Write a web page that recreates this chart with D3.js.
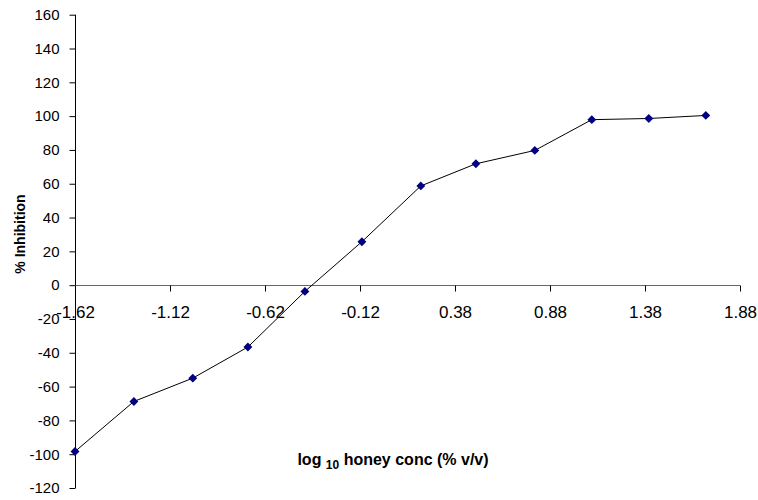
<!DOCTYPE html>
<html>
<head>
<meta charset="utf-8">
<script src="https://cdn.jsdelivr.net/npm/d3@7"></script>
<style>
  body { margin: 0; background: #fff; }
  text { font-family: "Liberation Sans", Arial, sans-serif; }
</style>
</head>
<body>
<div id="chart"></div>
<script>
// Chart size
var svgWidth = 758;
var svgHeight = 500;

// Data
var logConc = [-1.62, -1.31, -1.00, -0.71, -0.41, -0.11, 0.20, 0.49, 0.80, 1.10, 1.40, 1.70];
var inhibition = [-98.4, -68.8, -55.0, -36.6, -3.7, 25.7, 58.7, 71.8, 79.7, 97.9, 98.6, 100.4];
var xTicks = [-1.62, -1.12, -0.62, -0.12, 0.38, 0.88, 1.38, 1.88];
var yTicks = [160, 140, 120, 100, 80, 60, 40, 20, 0, -20, -40, -60, -80, -100, -120];

var data = logConc.map(function(d, i) { return { x: d, y: inhibition[i] }; });

var svg = d3.select("#chart")
  .append("svg")
  .attr("width", svgWidth)
  .attr("height", svgHeight);

// Scales
var xScale = d3.scaleLinear().domain([-1.62, 1.88]).range([75, 740]);
var yScale = d3.scaleLinear().domain([-120, 160]).range([488, 14.7]);

// plain hyphen instead of d3's unicode minus
var hyphen = function(s) { return s.replace("\u2212", "-"); };

// Y axis (left side of plot)
var leftAxis = d3.axisLeft(yScale)
  .tickValues(yTicks)
  .tickSize(6)
  .tickPadding(10)
  .tickFormat(function(d) { return hyphen(d3.format("d")(d)); });

var yAxis = svg.append("g")
  .attr("transform", "translate(75.5,0)")
  .call(leftAxis);
yAxis.select(".domain").attr("stroke", "#000").attr("d", "M0," + yScale(160) + "V" + yScale(-120));
yAxis.selectAll(".tick line").attr("stroke", "#000");
yAxis.selectAll(".tick text")
  .style("font-size", "15px")
  .attr("fill", "#000");

// X axis crossing at zero
var bottomAxis = d3.axisBottom(xScale)
  .tickValues(xTicks)
  .tickSize(6)
  .tickPadding(14)
  .tickFormat(function(d) { return hyphen(d3.format(".2f")(d)); });

var xAxis = svg.append("g")
  .attr("transform", "translate(0," + (Math.round(yScale(0)) + 0.5) + ")")
  .call(bottomAxis);
xAxis.select(".domain").attr("stroke", "#666").attr("d", "M" + xScale(-1.62) + ",0H" + xScale(1.88));
xAxis.selectAll(".tick line").attr("stroke", "#000");
xAxis.selectAll(".tick text")
  .style("font-size", "17px")
  .attr("fill", "#000");

// Line
var line = d3.line()
  .x(function(d) { return xScale(d.x); })
  .y(function(d) { return yScale(d.y); });

svg.append("path")
  .datum(data)
  .attr("fill", "none")
  .attr("stroke", "#000")
  .attr("stroke-width", 1)
  .attr("d", line);

// Diamond markers
svg.selectAll(".marker")
  .data(data)
  .enter()
  .append("path")
  .attr("class", "marker")
  .attr("d", d3.symbol().type(d3.symbolDiamond2).size(50))
  .attr("transform", function(d) { return "translate(" + xScale(d.x) + "," + yScale(d.y) + ")"; })
  .attr("fill", "#000080");

// Axis titles
var xTitle = svg.append("text")
  .attr("x", 393)
  .attr("y", 465)
  .attr("text-anchor", "middle")
  .style("font-size", "16px")
  .style("font-weight", "bold");
xTitle.append("tspan").text("log ");
xTitle.append("tspan").attr("dy", 4).style("font-size", "12px").text("10");
xTitle.append("tspan").attr("dy", -4).text(" honey conc (% v/v)");

svg.append("text")
  .attr("transform", "translate(25,234) rotate(-90)")
  .attr("text-anchor", "middle")
  .style("font-size", "14px")
  .style("font-weight", "bold")
  .text("% Inhibition");
</script>
</body>
</html>
